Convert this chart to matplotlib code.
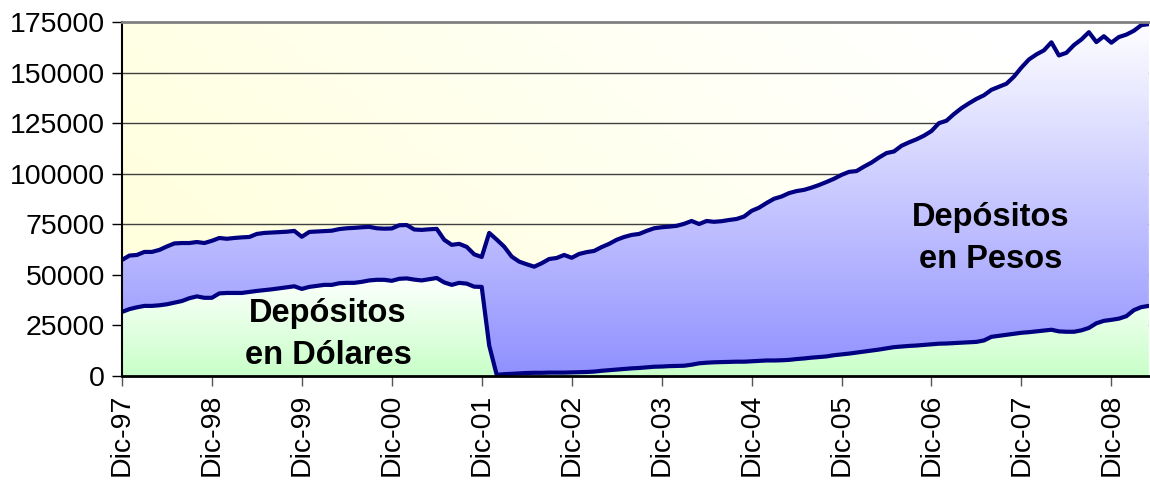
import numpy as np
import matplotlib.pyplot as plt
from matplotlib.colors import to_rgb
from matplotlib.patches import Polygon

plt.rcParams['font.family'] = ['Liberation Sans', 'DejaVu Sans']

# depositos totales (pesos + dolares), millones, mensual dic-97 .. may-09
total = [
    57300, 59500, 59800, 61300, 61300, 62300, 64000, 65500, 65700, 65700,
    66200, 65700, 66800, 68200, 67800, 68200, 68500, 68700, 70200, 70700,
    70900, 71100, 71300, 71700, 68800, 71200, 71400, 71600, 71800, 72600,
    73000, 73200, 73500, 73700, 73000, 72800, 72900, 74500, 74600, 72400,
    72200, 72500, 72700, 67300, 64800, 65300, 63800, 60100, 58800, 70700,
    67400, 63900, 59000, 56500, 55200, 54000, 55700, 57800, 58300, 59800,
    58400, 60300, 61200, 61800, 63700, 65300, 67300, 68700, 69700, 70200,
    71700, 73000, 73500, 73800, 74200, 75200, 76600, 75100, 76600, 76200,
    76500, 77100, 77600, 78800, 81600, 83200, 85500, 87600, 88700, 90400,
    91400, 92000, 93100, 94400, 95900, 97500, 99400, 100900, 101300, 103500,
    105500, 108000, 110200, 111000, 113800, 115500, 117000, 118800, 121100, 125000,
    126200, 129500, 132400, 134800, 137000, 138800, 141500, 143000, 144500, 148000,
    152500, 156500, 159000, 161000, 165000, 158500, 159800, 163600, 166400, 170000,
    165100, 168000, 164800, 167600, 168800, 170700, 173500, 174000,
]

dolares = [
    31600, 33000, 33900, 34600, 34600, 34900, 35400, 36200, 37000, 38400,
    39300, 38600, 38600, 40800, 41000, 41000, 41000, 41500, 42000, 42400,
    42800, 43300, 43800, 44300, 43000, 44000, 44500, 45000, 45000, 45800,
    46000, 46000, 46500, 47200, 47500, 47500, 47000, 48000, 48200, 47600,
    47200, 47800, 48400, 46200, 45000, 46000, 45600, 44100, 44000, 15000,
    500, 800, 1000, 1200, 1400, 1500, 1500, 1600, 1600, 1600,
    1700, 1800, 1900, 2100, 2500, 2800, 3100, 3400, 3700, 3900,
    4200, 4500, 4600, 4800, 4900, 5000, 5500, 6200, 6500, 6700,
    6800, 6900, 7000, 7000, 7200, 7400, 7600, 7600, 7700, 7900,
    8300, 8600, 9000, 9300, 9600, 10200, 10600, 11000, 11500, 12000,
    12500, 13000, 13600, 14200, 14500, 14800, 15000, 15300, 15600, 15900,
    16000, 16200, 16400, 16600, 16800, 17500, 19300, 19800, 20300, 20800,
    21300, 21600, 22000, 22400, 22800, 22000, 21800, 21800, 22500, 23700,
    26000, 27200, 27700, 28300, 29500, 32500, 34000, 34600,
]

tick_labels = ["Dic-97", "Dic-98", "Dic-99", "Dic-00", "Dic-01", "Dic-02",
               "Dic-03", "Dic-04", "Dic-05", "Dic-06", "Dic-07", "Dic-08"]

months = np.arange(len(total))
total = np.array(total)
dolares = np.array(dolares)
YMAX = 175000


def gradient_fill(ax, x, lo, hi, c_top, c_bottom, v_top, v_bottom):
    """fill between lo and hi with a vertical gradient (image clipped to polygon)"""
    verts = np.column_stack([np.r_[x, x[::-1]], np.r_[hi, lo[::-1]]])
    poly = Polygon(verts, closed=True, facecolor="none", edgecolor="none")
    ax.add_patch(poly)
    g = np.linspace(0, 1, 256)[:, None, None]
    img = np.array(to_rgb(c_top)) * (1 - g) + np.array(to_rgb(c_bottom)) * g
    im = ax.imshow(img, extent=[x[0], x[-1], v_bottom, v_top], aspect="auto",
                   origin="upper", zorder=1, interpolation="bilinear")
    im.set_clip_path(poly)


fig = plt.figure(figsize=(11.5, 4.8), dpi=100)
ax = fig.add_axes([0.106, 0.217, 0.893, 0.737])

# background: pale yellow fading to white towards the upper right
gx, gy = np.meshgrid(np.linspace(0, 1, 300), np.linspace(1, 0, 150))
t = np.clip(0.8 * gx + 0.35 * gy, 0, 1)[:, :, None]
bg = np.array(to_rgb("#FFFFD8")) * (1 - t) + np.array(to_rgb("#FFFFFF")) * t
ax.imshow(bg, extent=[0, months[-1], 0, YMAX], aspect="auto", zorder=0)

gradient_fill(ax, months, dolares, total, "#FFFFFF", "#9090FF", YMAX, 0)
gradient_fill(ax, months, np.zeros_like(dolares), dolares, "#FFFFFF", "#C8FFC8", 50000, 0)

for v in range(25000, YMAX, 25000):
    ax.axhline(v, color="#404040", lw=1, zorder=0.5)

ax.plot(months, total, color="#000080", lw=3, zorder=3, solid_joinstyle="round")
ax.plot(months, dolares, color="#000080", lw=3, zorder=3, solid_joinstyle="round")

ax.set_xlim(0, months[-1])
ax.set_ylim(0, YMAX)
ax.set_yticks(range(0, YMAX + 1, 25000))
ax.set_xticks(np.arange(0, len(months), 12))
ax.set_xticklabels(tick_labels, rotation=90)
ax.tick_params(axis="both", labelsize=20.5, direction="out", length=7, width=1)
ax.tick_params(axis="x", colors="#555555", labelcolor="black", pad=6)
ax.tick_params(axis="y", pad=5)

ax.spines["left"].set_linewidth(1.5)
ax.spines["bottom"].set_linewidth(2)
ax.spines["top"].set_color("#808080")
ax.spines["top"].set_linewidth(2)
ax.spines["right"].set_visible(False)
for s in ax.spines.values():
    s.set_zorder(4)

ax.text(27.5, 20500, "Depósitos\nen Dólares", ha="center", va="center",
        fontsize=23.5, fontweight="bold", linespacing=1.45, zorder=5)
ax.text(115.9, 68000, "Depósitos\nen Pesos", ha="center", va="center",
        fontsize=23.5, fontweight="bold", linespacing=1.45, zorder=5)

fig.savefig("out.png", dpi=100)
